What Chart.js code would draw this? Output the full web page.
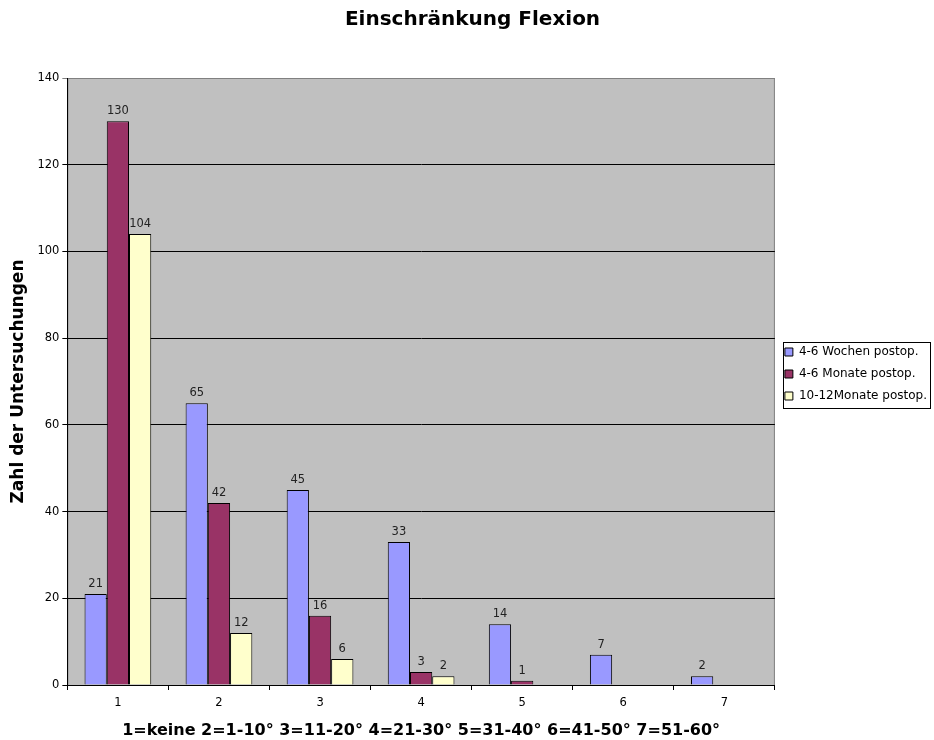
<!DOCTYPE html>
<html>
<head>
<meta charset="utf-8">
<script src="https://cdn.jsdelivr.net/npm/chart.js@4"></script>
<style>
  html, body { margin: 0; padding: 0; background: #fff; }
  #wrap { width: 934px; height: 740px; }
</style>
</head>
<body>
<div id="wrap"><canvas id="chart" width="934" height="740"></canvas></div>
<script>
// Kategorien (Einschränkung Flexion)
const categories = ["1", "2", "3", "4", "5", "6", "7"];

// Werte je Untersuchungszeitpunkt
const wochen46 = [21, 65, 45, 33, 14, 7, 2];
const monate46 = [130, 42, 16, 3, 1, 0, 0];
const monate1012 = [104, 12, 6, 2, 0, 0, 0];

const seriesNames = ["4-6 Wochen postop.", "4-6 Monate postop.", "10-12Monate postop."];
const yTicks = [0, 20, 40, 60, 80, 100, 120, 140];

const FONT = "'DejaVu Sans', Verdana, sans-serif";

// grauer Hintergrund der Zeichenfläche
const plotBg = {
  id: "plotBg",
  beforeDraw(chart) {
    const { ctx, chartArea: a } = chart;
    ctx.save();
    ctx.fillStyle = "#c0c0c0";
    ctx.fillRect(a.left, a.top, a.right - a.left, a.bottom - a.top);
    ctx.strokeStyle = "#808080";
    ctx.lineWidth = 1;
    ctx.strokeRect(a.left + 0.5, a.top + 0.5, a.right - a.left - 1, a.bottom - a.top);
    ctx.restore();
  }
};

// Zahlen über den Balken
const barLabels = {
  id: "barLabels",
  afterDatasetsDraw(chart) {
    const ctx = chart.ctx;
    ctx.save();
    ctx.font = "11.5px " + FONT;
    ctx.fillStyle = "#222";
    ctx.textAlign = "center";
    ctx.textBaseline = "alphabetic";
    chart.data.datasets.forEach((ds, i) => {
      chart.getDatasetMeta(i).data.forEach((bar, j) => {
        const v = ds.data[j];
        if (!v) return;
        ctx.fillText(String(v), bar.x, bar.y - 7);
      });
    });
    ctx.restore();
  }
};

// Rahmen um die Legende
const legendBorder = {
  id: "legendBorder",
  afterDraw(chart) {
    const lg = chart.legend;
    if (!lg || !lg.legendHitBoxes.length) return;
    const boxes = lg.legendHitBoxes;
    const x0 = Math.min(...boxes.map(b => b.left)) - 2;
    const y0 = boxes[0].top - 4;
    const x1 = Math.max(...boxes.map(b => b.left + b.width)) + 3;
    const last = boxes[boxes.length - 1];
    const y1 = last.top + last.height + 6;
    const ctx = chart.ctx;
    ctx.save();
    ctx.strokeStyle = "#000";
    ctx.lineWidth = 1;
    ctx.strokeRect(Math.round(x0) + 0.5, Math.round(y0) + 0.5, Math.round(x1 - x0), Math.round(y1 - y0));
    ctx.restore();
  }
};

const ctx = document.getElementById("chart").getContext("2d");
new Chart(ctx, {
  type: "bar",
  data: {
    labels: categories,
    datasets: [
      { label: seriesNames[0], data: wochen46, backgroundColor: "#9999ff" },
      { label: seriesNames[1], data: monate46, backgroundColor: "#993366" },
      { label: seriesNames[2], data: monate1012, backgroundColor: "#ffffcc" }
    ].map(d => Object.assign(d, {
      borderColor: "#000",
      borderWidth: 1,
      borderSkipped: "bottom",
      categoryPercentage: 0.66,
      barPercentage: 1
    }))
  },
  options: {
    responsive: false,
    animation: false,
    devicePixelRatio: 1,
    layout: { padding: { top: 8, right: -3, bottom: 0, left: 8 } },
    plugins: {
      title: {
        display: true,
        text: "Einschränkung Flexion",
        color: "#000",
        font: { family: FONT, size: 20, weight: "bold" },
        padding: { top: 0, bottom: 46 }
      },
      legend: {
        position: "right",
        labels: {
          color: "#000",
          font: { family: FONT, size: 12 },
          boxWidth: 8,
          boxHeight: 8,
          padding: 10
        }
      },
      tooltip: { enabled: false }
    },
    scales: {
      x: {
        grid: {
          offset: true,
          drawOnChartArea: false,
          drawTicks: true,
          tickLength: 5,
          color: "#000"
        },
        border: { color: "#000" },
        ticks: { color: "#000", font: { family: FONT, size: 11.5 }, padding: 6 },
        title: {
          display: true,
          text: "1=keine 2=1-10° 3=11-20° 4=21-30° 5=31-40° 6=41-50° 7=51-60°",
          color: "#000",
          font: { family: FONT, size: 16, weight: "bold" },
          padding: { top: 5, bottom: 0 }
        }
      },
      y: {
        min: 0,
        max: 140,
        afterBuildTicks(scale) { scale.ticks = yTicks.map(v => ({ value: v })); },
        grid: {
          color: c => (c.tick && c.tick.value === 140 ? "#808080" : "#000"),
          tickLength: 5,
          drawTicks: true
        },
        border: { color: "#000" },
        ticks: { color: "#000", font: { family: FONT, size: 11.5 }, padding: 3 },
        title: {
          display: true,
          text: "Zahl der Untersuchungen",
          color: "#000",
          font: { family: FONT, size: 17, weight: "bold" },
          padding: { top: 0, bottom: 6 }
        }
      }
    }
  },
  plugins: [plotBg, barLabels, legendBorder]
});
</script>
</body>
</html>
